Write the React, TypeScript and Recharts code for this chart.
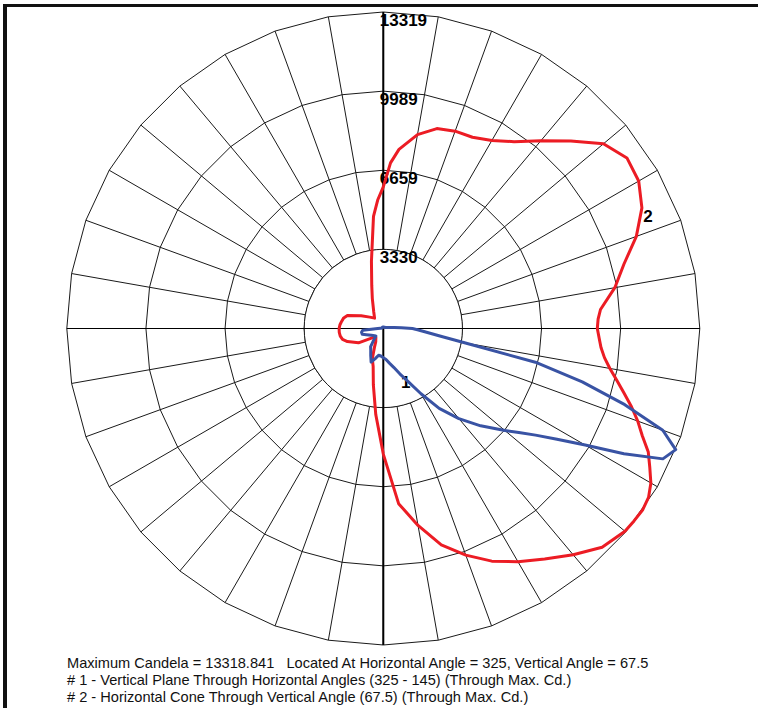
import React from 'react';
import { RadarChart, PolarGrid, PolarAngleAxis, PolarRadiusAxis, Radar } from 'recharts';

// ---- data ----
const MAX_CD = 13318.841;
const radiusTicks = [3329.71, 6659.42, 9989.13, 13318.841];
const spokeAngles = [0, 10, 20, 30, 40, 50, 60, 70, 80, 90, 100, 110, 120, 130, 140, 150, 160, 170, 180, 190, 200, 210, 220, 230, 240, 250, 260, 270, 280, 290, 300, 310, 320, 330, 340, 350];
// polar-degree directions of the cross-hair axes (down half, left/right)
const verticalAxisDown = [270];
const horizontalAxis = [0, 180];

// screen angle, clockwise from top
const angles = [0, 2.5, 5, 10, 15, 20, 25, 30, 35, 40, 45, 50, 55, 60, 65, 70, 75, 80, 85, 87.5, 90, 92.5, 95, 97.5, 100, 102.5, 105, 107.5, 110, 112.5, 115, 117.5, 120, 122.5, 125, 127.5, 130, 135, 140, 145, 150, 155, 160, 165, 170, 175, 180, 185, 190, 195, 200, 205, 210, 215, 220, 225, 230, 240, 250, 255, 260, 265, 270, 275, 280, 285, 290, 300, 310, 320, 330, 340, 345, 350, 355, 357.5];

// # 1 - vertical plane (blue)
const planeValues = [63, 63, 63, 63, 63, 63, 63, 63, 63, 63, 63, 63, 85, 85, 106, 127, 169, 254, 465, 761, 1226, 1480, 1826, 2400, 3510, 6554, 8668, 10655, 12515, 13319, 12981, 11416, 9809, 8668, 7822, 7188, 6681, 5793, 4947, 4101, 3171, 2452, 2030, 1691, 1480, 1311, 1226, 1163, 1142, 1311, 1501, 1252, 1057, 930, 613, 444, 478, 575, 761, 918, 930, 867, 233, 127, 85, 63, 63, 63, 63, 63, 63, 63, 63, 63, 63, 63];

// # 2 - horizontal cone (red)
const coneValues = [5962, 6977, 7568, 8287, 8710, 8837, 8879, 9133, 9598, 10317, 11162, 12093, 12515, 12410, 12008, 11332, 10486, 9894, 9175, 9048, 9006, 9091, 9196, 9387, 9683, 10063, 10486, 10951, 11395, 11797, 12304, 12642, 13002, 13234, 13319, 13300, 13276, 13023, 12431, 11839, 11332, 10803, 10148, 9429, 8414, 7399, 5285, 3636, 2410, 1649, 1353, 888, 634, 550, 486, 507, 613, 1205, 1607, 1776, 1839, 1860, 1860, 1831, 1776, 1725, 1607, 1074, 744, 571, 803, 1353, 1877, 2875, 4736, 5412];

const seriesNames = ['1', '2'];
const seriesLabelAngles = [160, 65];

const footerLines = [
  'Maximum Candela = 13318.841   Located At Horizontal Angle = 325, Vertical Angle = 67.5',
  '# 1 - Vertical Plane Through Horizontal Angles (325 - 145) (Through Max. Cd.)',
  '# 2 - Horizontal Cone Through Vertical Angle (67.5) (Through Max. Cd.)',
];

const rows = angles.map((a, i) => ({
  angle: a,
  plane: planeValues[i],
  cone: coneValues[i],
  disc: radiusTicks[0],
}));

const FONT = '"Liberation Sans", Arial, Helvetica, sans-serif';

const RadiusTick = (props: any) => {
  const { x, y, payload } = props;
  return (
    <text x={x - 3.5} y={y + 13.5} textAnchor="start" fontFamily={FONT} fontWeight="bold" fontSize={17} fill="#000">
      {Math.round(payload.value)}
    </text>
  );
};

const makeLabelDot = (seriesIndex: number) => (props: any) => {
  const { cx, cy, index } = props;
  if (angles[index] !== seriesLabelAngles[seriesIndex]) {
    return <g key={`d-${seriesIndex}-${index}`} />;
  }
  return (
    <text key={`d-${seriesIndex}-${index}`} x={cx + 6} y={cy + 14} textAnchor="middle" fontFamily={FONT} fontWeight="bold" fontSize={17} fill="#000">
      {seriesNames[seriesIndex]}
    </text>
  );
};

export default function App() {
  return (
    <div style={{ position: 'absolute', left: 0, top: 0, width: 758, height: 708, background: '#fff', overflow: 'hidden' }}>
      <div
        style={{
          position: 'absolute',
          left: 3,
          top: 4,
          width: 780,
          height: 730,
          borderTop: '3px solid #111',
          borderLeft: '4px solid #111',
        }}
      />
      <div style={{ position: 'absolute', left: 0, top: 0 }}>
        <RadarChart
          width={758}
          height={652}
          data={rows}
          cx={383.3}
          cy={328.5}
          outerRadius={316.5}
          margin={{ top: 0, right: 0, bottom: 0, left: 0 }}
        >
          <PolarGrid gridType="polygon" stroke="#1a1a1a" strokeWidth={1} />
          <PolarAngleAxis
            dataKey="angle"
            type="number"
            domain={[0, 360]}
            ticks={spokeAngles}
            tick={false}
            tickLine={false}
            axisLine={false}
          />
          <Radar
            dataKey="disc"
            stroke="#1a1a1a"
            strokeWidth={1}
            fill="#ffffff"
            fillOpacity={1}
            dot={false}
            activeDot={false}
            isAnimationActive={false}
          />
          <PolarGrid
            polarAngles={horizontalAxis}
            polarRadius={[]}
            stroke="#000"
            strokeWidth={1}
            zIndex={550}
          />
          <PolarGrid
            polarAngles={verticalAxisDown}
            polarRadius={[]}
            stroke="#000"
            strokeWidth={2}
            zIndex={550}
          />
          <PolarRadiusAxis
            radiusAxisId={0}
            angle={90}
            type="number"
            domain={[0, MAX_CD]}
            ticks={radiusTicks}
            tick={RadiusTick}
            tickLine={false}
            axisLine={{ stroke: '#000', strokeWidth: 2 }}
          />
          <Radar
            dataKey="cone"
            stroke="#ec1c24"
            strokeWidth={3}
            strokeLinejoin="round"
            fill="none"
            fillOpacity={0}
            dot={makeLabelDot(1)}
            activeDot={false}
            isAnimationActive={false}
            zIndex={600}
          />
          <Radar
            dataKey="plane"
            stroke="#3953a4"
            strokeWidth={3}
            strokeLinejoin="round"
            fill="none"
            fillOpacity={0}
            dot={makeLabelDot(0)}
            activeDot={false}
            isAnimationActive={false}
            zIndex={610}
          />
        </RadarChart>
      </div>
      <div
        style={{
          position: 'absolute',
          left: 67,
          top: 655,
          fontFamily: FONT,
          fontSize: 14.6,
          lineHeight: '17px',
          whiteSpace: 'pre',
          color: '#111',
        }}
      >
        {footerLines.map((l, i) => (
          <div key={i}>{l}</div>
        ))}
      </div>
    </div>
  );
}
